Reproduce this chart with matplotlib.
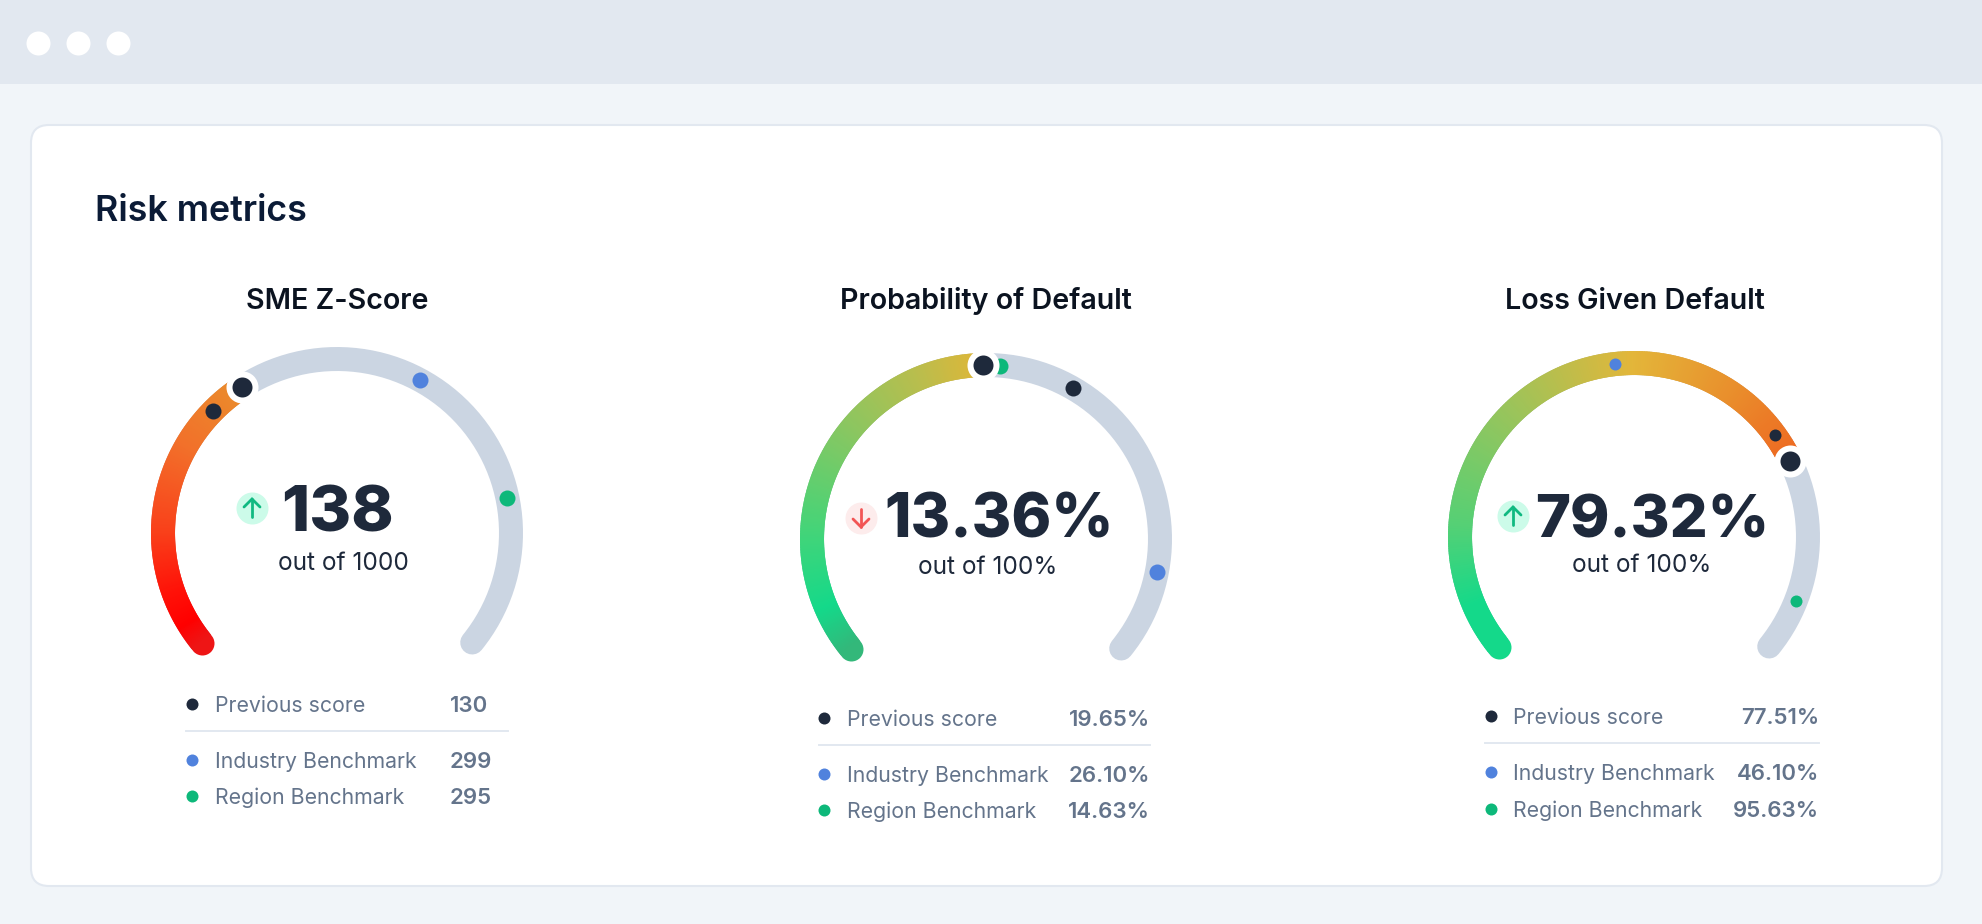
import numpy as np
import matplotlib
matplotlib.use('Agg')
import matplotlib.pyplot as plt
from matplotlib.collections import LineCollection
from matplotlib.colors import LinearSegmentedColormap
from matplotlib.patches import FancyBboxPatch, Rectangle

plt.rcParams['font.family'] = ['Inter', 'DejaVu Sans']

# Values
gauge_titles = ['SME Z-Score', 'Probability of Default', 'Loss Given Default']
scores = ['138', '13.36%', '79.32%']
out_of = ['out of 1000', 'out of 100%', 'out of 100%']
trend = ['up', 'down', 'up']
legend_labels = ['Previous score', 'Industry Benchmark', 'Region Benchmark']
previous_text = ['130', '19.65%', '77.51%']
industry_text = ['299', '26.10%', '46.10%']
region_text = ['295', '14.63%', '95.63%']

# where the marks sit along each gauge, 0 = start of arc, 1 = end of arc
score_pos = [0.372, 0.496, 0.748]
previous_pos = [0.324, 0.616, 0.709]
industry_pos = [0.610, 0.891, 0.476]
region_pos = [0.804, 0.518, 0.933]

# Colours
DARK = '#1e293b'
BLUE = '#5082dd'
GREEN = '#0db87a'
TRACK = '#cbd5e2'
GREY = '#64748b'
LINE = '#e2e8f0'

ramps = [
    [(0, '#ee1515'), (0.08, '#ff0000'), (0.2, '#ff1208'), (0.41, '#f9401a'), (0.72, '#f2702a'), (1, '#ea8c2c')],
    [(0, '#33b87a'), (0.12, '#14d98a'), (0.33, '#45d478'), (0.62, '#8cc660'), (0.85, '#bcbd4c'), (1, '#dfb638')],
    [(0, '#14d98a'), (0.08, '#14d98a'), (0.22, '#55d075'), (0.44, '#9ac45b'), (0.67, '#e3b63a'), (0.85, '#e98f2c'), (1, '#ee6a22')],
]

# Layout in picture pixels
centers = [(337, 533), (986, 539), (1634, 537)]
R = 174
ARC_W = 24
A0, SWEEP = 219.0, 258.0
title_y = 309
title_x = [337.5, 986, 1634.5]
score_xy = [(337.5, 532), (999, 538), (1652, 538)]
score_size = [46, 43.5, 43]
sub_xy = [(343, 570), (988, 574), (1642, 572)]
icon_xy = [(252, 508), (861, 518), (1513, 516)]
prev_dot_d = [16, 16, 12]
ind_dot_d = [16, 16, 12]
reg_dot_d = [16, 16, 12]
dot_x = [192, 824, 1491]
label_x = [215, 847, 1513]
value_x = [450, 1150, 1819]
value_ha = ['left', 'right', 'right']
row_y = [(704, 760, 796), (718, 774, 810), (716, 772, 809)]
rule = [(186, 508, 731), (819, 1150, 745), (1485, 1819, 743)]


def px2pt(d):
    return d * 72 / 100


def dot(ax, x, y, d, color, z=5):
    ax.scatter([x], [y], s=px2pt(d) ** 2, color=color, linewidths=0, zorder=z)


def on_arc(c, pos):
    a = np.radians(A0 - SWEEP * pos)
    return c[0] + R * np.cos(a), c[1] - R * np.sin(a)


fig = plt.figure(figsize=(19.82, 9.24), dpi=100, facecolor='#f1f5f9')
ax = fig.add_axes([0, 0, 1, 1])
ax.set_xlim(0, 1982)
ax.set_ylim(924, 0)
ax.axis('off')

# browser frame
ax.add_patch(Rectangle((0, 0), 1982, 84, color='#e2e8f0', lw=0))
for x in [38, 78, 118]:
    dot(ax, x, 43, 24, 'white')
ax.add_patch(FancyBboxPatch((31, 125), 1911, 761, boxstyle='round,pad=0,rounding_size=18',
                            facecolor='white', edgecolor=LINE, lw=1.5))
ax.text(95, 221, 'Risk metrics', fontsize=25.8, fontweight='semibold', color='#0b1b36', va='baseline')

for i in range(3):
    c = centers[i]
    ax.text(title_x[i], title_y, gauge_titles[i], fontsize=20.6, fontweight='semibold', color='#0b1320',
            ha='center', va='baseline')

    # grey track
    t = np.linspace(0, 1, 200)
    xs, ys = on_arc(c, t)
    ax.plot(xs, ys, color=TRACK, lw=px2pt(ARC_W), solid_capstyle='round', zorder=2)

    # gradient part, short pieces that overlap so no seams show
    cmap = LinearSegmentedColormap.from_list('ramp%d' % i, ramps[i])
    t = np.linspace(0, score_pos[i], 260)
    xs, ys = on_arc(c, t)
    pts = np.column_stack([xs, ys])
    segs = np.stack([pts[:-2], pts[2:]], axis=1)
    cols = cmap(np.linspace(0, 1, len(segs)))
    dot(ax, xs[0], ys[0], ARC_W, cols[0], z=3)
    lc = LineCollection(segs, colors=cols, linewidths=px2pt(ARC_W), capstyle='butt', zorder=3)
    ax.add_collection(lc)

    # benchmark dots
    x, y = on_arc(c, industry_pos[i])
    dot(ax, x, y, ind_dot_d[i], BLUE)
    x, y = on_arc(c, region_pos[i])
    dot(ax, x, y, reg_dot_d[i], GREEN)
    x, y = on_arc(c, previous_pos[i])
    dot(ax, x, y, prev_dot_d[i], DARK)

    # current score dot
    x, y = on_arc(c, score_pos[i])
    dot(ax, x, y, 32, 'white', z=6)
    dot(ax, x, y, 20, DARK, z=7)

    # big number
    ax.text(score_xy[i][0], score_xy[i][1], scores[i], fontsize=score_size[i], fontweight=800, color=DARK,
            ha='center', va='baseline')
    ax.text(sub_xy[i][0], sub_xy[i][1], out_of[i], fontsize=17.6, color=DARK, ha='center', va='baseline')

    # trend icon
    ix, iy = icon_xy[i]
    up = trend[i] == 'up'
    dot(ax, ix, iy, 32, '#ccfbe9' if up else '#fdecec')
    col = '#10b981' if up else '#f25555'
    s = -1 if up else 1
    ax.plot([ix, ix], [iy - s * 9, iy + s * 9], color=col, lw=2, solid_capstyle='round', zorder=6)
    ax.plot([ix - 8, ix, ix + 8], [iy + s, iy + s * 9, iy + s], color=col, lw=2,
            solid_capstyle='round', solid_joinstyle='miter', zorder=6)

    # legend rows
    vals = [previous_text[i], industry_text[i], region_text[i]]
    for label, val, yy, col in zip(legend_labels, vals, row_y[i], [DARK, BLUE, GREEN]):
        dot(ax, dot_x[i], yy, 12, col)
        ax.text(label_x[i], yy + 8, label, fontsize=15.3, color=GREY, va='baseline')
        ax.text(value_x[i], yy + 8, val, fontsize=16, fontweight='semibold', color=GREY,
                ha=value_ha[i], va='baseline')
    ax.plot([rule[i][0], rule[i][1]], [rule[i][2], rule[i][2]], color=LINE, lw=1.4, zorder=2)

fig.savefig('out.png', dpi=100, facecolor=fig.get_facecolor())
